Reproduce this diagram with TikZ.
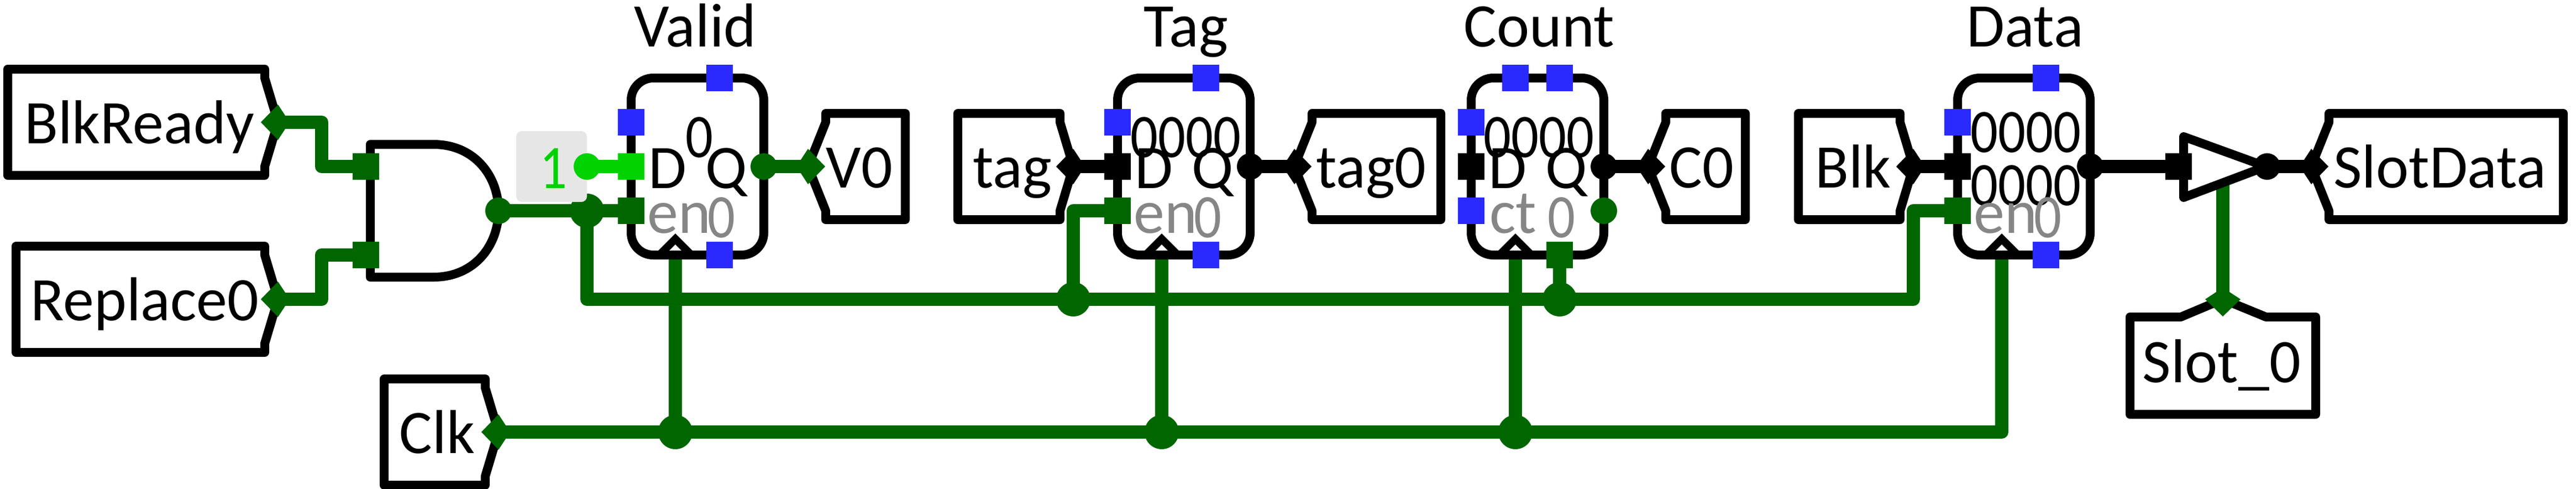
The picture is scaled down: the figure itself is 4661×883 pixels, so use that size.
\documentclass[tikz,border=0pt]{standalone}
\usepackage{fontspec}
\setmainfont{Carlito}
\newfontfamily\digitfont[FakeStretch=0.88]{Carlito}
\usetikzlibrary{backgrounds}
\definecolor{wiregreen}{HTML}{006700}
\definecolor{litegreen}{HTML}{00D200}
\definecolor{portblue}{HTML}{2A2AFF}
\definecolor{txtgrey}{HTML}{868686}
\definecolor{constgrey}{HTML}{E6E6E6}
\tikzset{
  reg/.style = {draw, line width=4pt, fill=white, rounded corners=10pt, minimum width=60pt, minimum height=80pt, inner sep=0, outer sep=0},
  sq/.style = {fill=#1, minimum size=12pt, inner sep=0, outer sep=0},
  spot/.style = {circle, fill=#1, minimum size=12pt, inner sep=0, outer sep=0},
  junc/.style = {circle, fill=wiregreen, minimum size=15.5pt, inner sep=0, outer sep=0},
  pinbody/.style = {draw, line width=4pt, line join=round, fill=white},
  wire/.style = {line width=6pt, line join=round, draw=#1},
  wire/.default = wiregreen,
  lbl/.style = {font=\fontsize{28}{28}\selectfont, anchor=base, inner sep=0, text=#1},
  lbl/.default = black,
  num/.style = {lbl=#1, font=\fontsize{28}{28}\digitfont},
  num/.default = black,
  kite/.pic = {\fill[pic actions] (-31,0) -- (0,-32) -- (21,0) -- (0,32) -- cycle;}
}
\begin{document}
\begin{tikzpicture}[x=0.25pt, y=-0.25pt]
\useasboundingbox (0,0) rectangle (4661,883);
% pin tips
\coordinate (tBlkReady) at (503,221);
\coordinate (tReplace) at (503,541);
\coordinate (tClk) at (902,781);
\coordinate (tV) at (1462,301);
\coordinate (tTagIn) at (1942,301);
\coordinate (tTagOut) at (2342,301);
\coordinate (tC) at (2982,301);
\coordinate (tBlk) at (3462,301);
\coordinate (tSlot) at (4022,541);
\coordinate (tSlotData) at (4182,301);
\coordinate (clkV) at (1222,461);
\coordinate (clkT) at (2102,461);
\coordinate (clkC) at (2742,461);
\coordinate (clkD) at (3622,461);
\coordinate (bufEn) at (4022,330);
% input pins
\draw[pinbody] (14,125) -- (479,125) -- (479,141) -- (tBlkReady) -- (479,301) -- (479,317) -- (14,317) -- cycle;
\draw[pinbody] (29,445) -- (479,445) -- (479,461) -- (tReplace) -- (479,621) -- (479,637) -- (29,637) -- cycle;
\draw[pinbody] (695,685) -- (878,685) -- (878,701) -- (tClk) -- (878,861) -- (878,877) -- (695,877) -- cycle;
\draw[pinbody] (1733,205) -- (1918,205) -- (1918,221) -- (tTagIn) -- (1918,381) -- (1918,397) -- (1733,397) -- cycle;
\draw[pinbody] (3254,205) -- (3438,205) -- (3438,221) -- (tBlk) -- (3438,381) -- (3438,397) -- (3254,397) -- cycle;
\draw[pinbody] (3854,573) -- (3946,573) -- (tSlot) -- (4100,573) -- (4190,573) -- (4190,749) -- (3854,749) -- cycle;
% output pins
\draw[pinbody] (1638,205) -- (1494,205) -- (1494,221) -- (tV) -- (1494,381) -- (1494,397) -- (1638,397) -- cycle;
\draw[pinbody] (2607,205) -- (2374,205) -- (2374,221) -- (tTagOut) -- (2374,381) -- (2374,397) -- (2607,397) -- cycle;
\draw[pinbody] (3158,205) -- (3014,205) -- (3014,221) -- (tC) -- (3014,381) -- (3014,397) -- (3158,397) -- cycle;
\draw[pinbody] (4638,205) -- (4214,205) -- (4214,221) -- (tSlotData) -- (4214,381) -- (4214,397) -- (4638,397) -- cycle;
% gate and registers
\draw[line width=4pt, line join=round, fill=white] (670,261) -- (784,261) .. controls (860,261) and (902,320) .. (902,381) .. controls (902,442) and (860,501) .. (784,501) -- (670,501) -- cycle;
\node[reg] (regV) at (1262,301) {};
\node[reg] (regT) at (2142,301) {};
\node[reg] (regC) at (2782,301) {};
\node[reg] (regD) at (3662,301) {};
\foreach \cx in {1222,2102,2742,3622}
  \draw[line width=3.5pt, miter limit=4] (\cx-29,461) -- (\cx,432) -- (\cx+29,461);
\draw[line width=4pt, line join=round, fill=white] (3951,247) -- (4100,301) -- (3951,357) -- cycle;
% ports
\node[sq=wiregreen] (gi1) at (662,301) {};
\node[sq=wiregreen] (gi2) at (662,461) {};
\node[spot=wiregreen] (gout) at (902,381) {};
\node[junc] (jEn) at (1062,381) {};
\node[fill=constgrey, rounded corners=2.5pt, minimum size=32pt, inner sep=0, outer sep=0] (konst) at (998,301) {};
\node[spot=litegreen] (kout) at (1062,301) {};
\node[sq=litegreen] (dV) at (1142,301) {};
\node[sq=wiregreen] (enV) at (1142,381) {};
\node[spot=wiregreen] (qV) at (1382,301) {};
\node[sq=black] (dT) at (2022,301) {};
\node[sq=wiregreen] (enT) at (2022,381) {};
\node[spot=black] (qT) at (2262,301) {};
\node[sq=black] (dC) at (2662,301) {};
\node[spot=black] (qC) at (2902,301) {};
\node[spot=wiregreen] (zeroC) at (2902,381) {};
\node[sq=wiregreen] (ldC) at (2822,461) {};
\node[sq=black] (dD) at (3542,301) {};
\node[sq=wiregreen] (enD) at (3542,381) {};
\node[spot=black] (qD) at (3782,301) {};
\node[sq=black] (bufIn) at (3942,301) {};
\node[spot=black] (bufOut) at (4102,301) {};
\foreach \px/\py in {1142/221,1302/141,1302/461,2022/221,2182/141,2182/461,2662/221,2662/381,2742/141,2822/141,3542/221,3702/141,3702/461}
  \node[sq=portblue] (nc\px-\py) at (\px,\py) {};
\node[junc] (jClkV) at (1222,781) {};
\node[junc] (jClkT) at (2102,781) {};
\node[junc] (jClkC) at (2742,781) {};
\node[junc] (jEnT) at (1942,541) {};
\node[junc] (jEnC) at (2822,541) {};
% pin marks
\pic[fill=wiregreen] at (tBlkReady) {kite};
\pic[fill=wiregreen] at (tReplace) {kite};
\pic[fill=wiregreen] at (tClk) {kite};
\pic[fill=black] at (tTagIn) {kite};
\pic[fill=black] at (tBlk) {kite};
\pic[fill=wiregreen, rotate=90] at (tSlot) {kite};
\pic[fill=wiregreen, rotate=180] at (tV) {kite};
\pic[fill=black, rotate=180] at (tTagOut) {kite};
\pic[fill=black, rotate=180] at (tC) {kite};
\pic[fill=black, rotate=180] at (tSlotData) {kite};
% wires
\begin{scope}[on background layer]
\draw[wire] (tBlkReady) -- ++(79,0) |- (gi1.center);
\draw[wire] (tReplace) -- ++(79,0) |- (gi2.center);
\draw[wire] (gout.center) -- (enV.center);
\draw[wire] (jEn.center) |- (jEnT.center) -- (jEnC.center) -| (3462,460) |- (enD.center);
\draw[wire] (jEnT.center) |- (enT.center);
\draw[wire] (jEnC.center) -- (ldC.center);
\draw[wire] (tClk) -| (clkD);
\draw[wire] (jClkV.center) -- (clkV);
\draw[wire] (jClkT.center) -- (clkT);
\draw[wire] (jClkC.center) -- (clkC);
\draw[wire] (tSlot) -- (bufEn);
\draw[wire] (qV.center) -- (tV);
\draw[wire=litegreen] (kout.center) -- (dV.center);
\draw[wire=black] (tTagIn) -- (dT.center);
\draw[wire=black] (qT.center) -- (tTagOut);
\draw[wire=black] (qC.center) -- (tC);
\draw[wire=black] (tBlk) -- (dD.center);
\draw[wire=black] (qD.center) -- (bufIn.center);
\draw[wire=black] (bufOut.center) -- (tSlotData);
\end{scope}
% texts
\node[lbl] (tV1) at (1258,84) {Valid};
\node[lbl] (tT1) at (2146,84) {Tag};
\node[lbl] (tC1) at (2785,84) {Count};
\node[lbl] (tD1) at (3664,84) {Data};
\node[lbl] (nBlkReady) at (252,259) {BlkReady};
\node[lbl] (nReplace) at (262,579) {Replace0};
\node[lbl] (nClk) at (791,819) {Clk};
\node[lbl] (nV) at (1555,339) {V0};
\node[lbl] (nTag) at (1832,339) {tag};
\node[lbl] (nTag0) at (2481,339) {tag0};
\node[lbl] (nC) at (3079,339) {C0};
\node[lbl] (nBlk) at (3353,339) {Blk};
\node[lbl] (nSlotData) at (4415,339) {SlotData};
\node[lbl] (nSlot) at (4020,691) {Slot\_0};
\node[num=litegreen] (kval) at (1001,340) {1};
% register contents
\node[num] (valV) at (1265,284) {0};
\node[num] (valT) at (2145,284) {0000};
\node[num] (valC) at (2784,284) {0000};
\node[num] (valD1) at (3665,275) {0000};
\node[num] (valD2) at (3665,371) {0000};
\foreach \rx/\rn in {1142/V,2022/T,2662/C} {
  \node[lbl] (D\rn) at (\rx+66,340) {D};
  \node[lbl] (Q\rn) at (\rx+172,340) {Q};
}
\node[lbl=txtgrey] (enV1) at (1229,421) {en};
\node[num=txtgrey] (enV0) at (1305,429) {0};
\node[lbl=txtgrey] (enT1) at (2109,421) {en};
\node[num=txtgrey] (enT0) at (2185,429) {0};
\node[lbl=txtgrey] (ctC1) at (2738,421) {ct};
\node[num=txtgrey] (ctC0) at (2825,429) {0};
\node[lbl=txtgrey] (enD1) at (3629,421) {en};
\node[num=txtgrey] (enD0) at (3705,429) {0};
\end{tikzpicture}
\end{document}
